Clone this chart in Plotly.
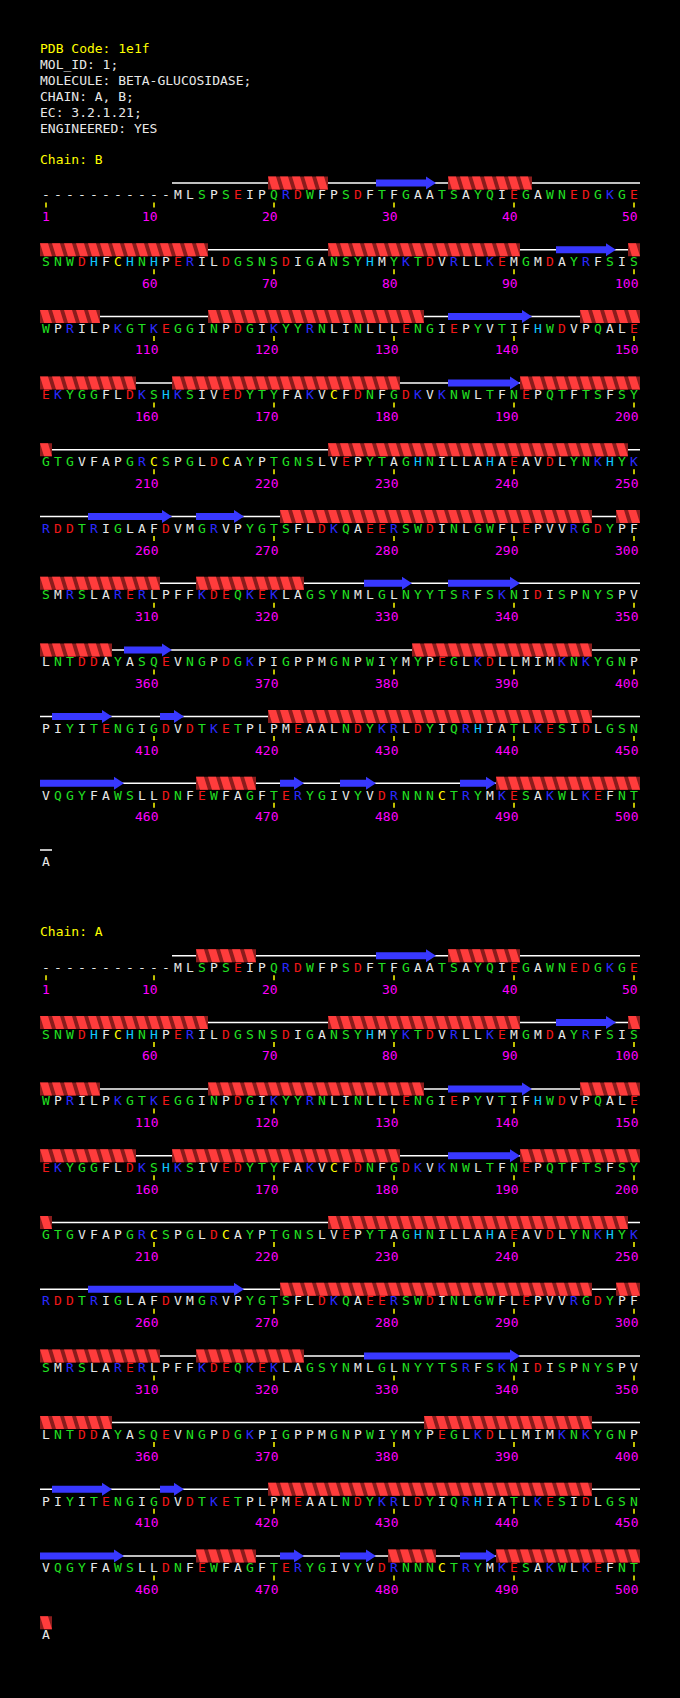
import plotly.graph_objects as go

PDB_CODE = "1e1f"
HEADER_LINES = [
    "MOL_ID: 1;",
    "MOLECULE: BETA-GLUCOSIDASE;",
    "CHAIN: A, B;",
    "EC: 3.2.1.21;",
    "ENGINEERED: YES",
]

# one string per display row of 50 residues, '-' = not observed
SEQUENCE_ROWS = [
    "-----------MLSPSEIPQRDWFPSDFTFGAATSAYQIEGAWNEDGKGE",
    "SNWDHFCHNHPERILDGSNSDIGANSYHMYKTDVRLLKEMGMDAYRFSIS",
    "WPRILPKGTKEGGINPDGIKYYRNLINLLLENGIEPYVTIFHWDVPQALE",
    "EKYGGFLDKSHKSIVEDYTYFAKVCFDNFGDKVKNWLTFNEPQTFTSFSY",
    "GTGVFAPGRCSPGLDCAYPTGNSLVEPYTAGHNILLAHAEAVDLYNKHYK",
    "RDDTRIGLAFDVMGRVPYGTSFLDKQAEERSWDINLGWFLEPVVRGDYPF",
    "SMRSLARERLPFFKDEQKEKLAGSYNMLGLNYYTSRFSKNIDISPNYSPV",
    "LNTDDAYASQEVNGPDGKPIGPPMGNPWIYMYPEGLKDLLMIMKNKYGNP",
    "PIYITENGIGDVDTKETPLPMEAALNDYKRLDYIQRHIATLKESIDLGSN",
    "VQGYFAWSLLDNFEWFAGFTERYGIVYVDRNNNCTRYMKESAKWLKEFNT",
    "A",
]

CHAINS = ["B", "A"]

HELICES = {
    "B": [(20, 24), (35, 41), (51, 64), (75, 90), (100, 105), (115, 132),
          (146, 158), (162, 180), (191, 201), (225, 249), (271, 296),
          (299, 310), (314, 322), (351, 356), (382, 396), (420, 446),
          (464, 468), (489, 500)],
    "A": [(14, 18), (35, 40), (51, 64), (75, 90), (100, 105), (115, 132),
          (146, 158), (162, 180), (191, 201), (225, 249), (271, 296),
          (299, 310), (314, 322), (351, 356), (383, 396), (420, 446),
          (464, 468), (480, 483), (489, 501)],
}

STRANDS = {
    "B": [(29, 33), (94, 98), (135, 141), (185, 190), (255, 261), (264, 267),
          (328, 331), (335, 340), (358, 361), (402, 406), (411, 412),
          (451, 457), (471, 472), (476, 478), (486, 488)],
    "A": [(29, 33), (94, 98), (135, 141), (185, 190), (255, 267), (328, 340),
          (402, 406), (411, 412), (451, 457), (471, 472), (476, 478),
          (486, 488)],
}

TICK_RESIDUES = [1, 10, 20, 30, 40, 50, 60, 70, 80, 90, 100, 110, 120, 130,
                 140, 150, 160, 170, 180, 190, 200, 210, 220, 230, 240, 250,
                 260, 270, 280, 290, 300, 310, 320, 330, 340, 350, 360, 370,
                 380, 390, 400, 410, 420, 430, 440, 450, 460, 470, 480, 490,
                 500]

WHITE = "#e8e8e8"
GREEN = "#22e022"
RED = "#f01818"
BLUE = "#2a2aff"
CYAN = "#10c8ff"
YELLOW = "#ffff00"
MAGENTA = "#ff00ff"
HELIX_LIGHT = "#ff3c3c"
HELIX_DARK = "#8a1c1c"
STRAND_BLUE = "#3838ff"

RESIDUE_COLOURS = {}
for aa in "AVILMFP-":
    RESIDUE_COLOURS[aa] = WHITE
for aa in "STGNQYW":
    RESIDUE_COLOURS[aa] = GREEN
for aa in "DE":
    RESIDUE_COLOURS[aa] = RED
for aa in "KR":
    RESIDUE_COLOURS[aa] = BLUE
RESIDUE_COLOURS["H"] = CYAN
RESIDUE_COLOURS["C"] = YELLOW

FONT = "DejaVu Sans Mono"
W, H = 680, 1698
X0, DX = 46, 12
ROW1_Y = 196
ROW_PITCH = 66.7
CHAIN_GAP = 772.7
PER_ROW = 50

sequence = "".join(SEQUENCE_ROWS)
n_res = len(sequence)
first_seen = sequence.index(sequence.replace("-", "")[0]) + 1


def res_x(n):
    return X0 + DX * ((n - 1) % PER_ROW)


def res_y(ci, n):
    return ROW1_Y + ci * CHAIN_GAP + ((n - 1) // PER_ROW) * ROW_PITCH


def split_rows(start, end):
    pieces = []
    s = start
    while s <= end:
        row_end = ((s - 1) // PER_ROW + 1) * PER_ROW
        e = min(end, row_end)
        pieces.append((s, e))
        s = e + 1
    return pieces


fig = go.Figure()

coil_x, coil_y = [], []
dark_x, dark_y = [], []
light_x, light_y = [], []
strand_x, strand_y = [], []
tick_x, tick_y = [], []
letter_x, letter_y, letter_t, letter_c = [], [], [], []
annotations = []

annotations.append(dict(x=40, y=48, text="PDB Code: " + PDB_CODE, xanchor="left",
                        font=dict(color=YELLOW)))
for i, line in enumerate(HEADER_LINES):
    annotations.append(dict(x=40, y=64 + 16 * i, text=line, xanchor="left",
                            font=dict(color=WHITE)))

for ci, chain in enumerate(CHAINS):
    annotations.append(dict(x=40, y=ROW1_Y + ci * CHAIN_GAP - 37, text="Chain: " + chain,
                            xanchor="left", font=dict(color=YELLOW)))

    for s, e in split_rows(first_seen, n_res):
        yc = res_y(ci, s) - 13
        coil_x += [res_x(s) - 6, res_x(e) + 6, None]
        coil_y += [yc, yc, None]

    # helix ribbon: dark band with light slanted strokes, one per residue
    for start, end in HELICES[chain]:
        for s, e in split_rows(start, end):
            yc = res_y(ci, s) - 13
            top, bot = yc - 6.5, yc + 6.5
            xl, xr = res_x(s) - 6, res_x(e) + 6
            dark_x += [xl, xr, xr, xl, xl, None]
            dark_y += [top, top, bot, bot, top, None]
            for n in range(s, e + 1):
                x0 = res_x(n) - 6
                light_x += [x0, x0 + 8, x0 + 12, x0 + 4, x0, None]
                light_y += [top, top, bot, bot, top, None]

    for start, end in STRANDS[chain]:
        pieces = split_rows(start, end)
        for k, (s, e) in enumerate(pieces):
            yc = res_y(ci, s) - 13
            xl, xr = res_x(s) - 6, res_x(e) + 6
            if k == len(pieces) - 1:
                xh = xr - 10
                strand_x += [xl, xh, xh, xr, xh, xh, xl, xl, None]
                strand_y += [yc - 3.5, yc - 3.5, yc - 6.5, yc, yc + 6.5, yc + 3.5,
                             yc + 3.5, yc - 3.5, None]
            else:
                strand_x += [xl, xr, xr, xl, xl, None]
                strand_y += [yc - 3.5, yc - 3.5, yc + 3.5, yc + 3.5, yc - 3.5, None]

    for n, aa in enumerate(sequence, start=1):
        letter_x.append(res_x(n))
        letter_y.append(res_y(ci, n))
        letter_t.append(aa)
        letter_c.append(RESIDUE_COLOURS[aa])

    for n in TICK_RESIDUES:
        y = res_y(ci, n)
        tick_x += [res_x(n), res_x(n), None]
        tick_y += [y + 6.5, y + 11.5, None]
        annotations.append(dict(x=res_x(n) + 4, y=y + 20.5, text=str(n), xanchor="right",
                                font=dict(color=MAGENTA)))

fig.add_trace(go.Scatter(x=coil_x, y=coil_y, mode="lines",
                         line=dict(color="white", width=1.5), hoverinfo="skip"))
fig.add_trace(go.Scatter(x=dark_x, y=dark_y, mode="lines", fill="toself",
                         fillcolor=HELIX_DARK, line=dict(width=0, color=HELIX_DARK),
                         hoverinfo="skip"))
fig.add_trace(go.Scatter(x=light_x, y=light_y, mode="lines", fill="toself",
                         fillcolor=HELIX_LIGHT, line=dict(width=0, color=HELIX_LIGHT),
                         hoverinfo="skip"))
fig.add_trace(go.Scatter(x=strand_x, y=strand_y, mode="lines", fill="toself",
                         fillcolor=STRAND_BLUE, line=dict(width=0, color=STRAND_BLUE),
                         hoverinfo="skip"))
fig.add_trace(go.Scatter(x=tick_x, y=tick_y, mode="lines",
                         line=dict(color=YELLOW, width=1.5), hoverinfo="skip"))
fig.add_trace(go.Scatter(x=letter_x, y=letter_y, mode="text", text=letter_t,
                         textposition="middle center",
                         textfont=dict(family=FONT, size=13, color=letter_c),
                         hoverinfo="skip"))

for a in annotations:
    a.update(showarrow=False, yanchor="middle", borderpad=0, borderwidth=0)
    a["font"].update(family=FONT, size=13)

fig.update_layout(
    width=W,
    height=H,
    margin=dict(l=0, r=0, t=0, b=0),
    paper_bgcolor="black",
    plot_bgcolor="black",
    showlegend=False,
    annotations=annotations,
    xaxis=dict(range=[0, W], visible=False, fixedrange=True),
    yaxis=dict(range=[H, 0], visible=False, fixedrange=True),
)

fig.write_html("out.html", config={"displayModeBar": False},
               post_script="document.body.style.margin='0';")
